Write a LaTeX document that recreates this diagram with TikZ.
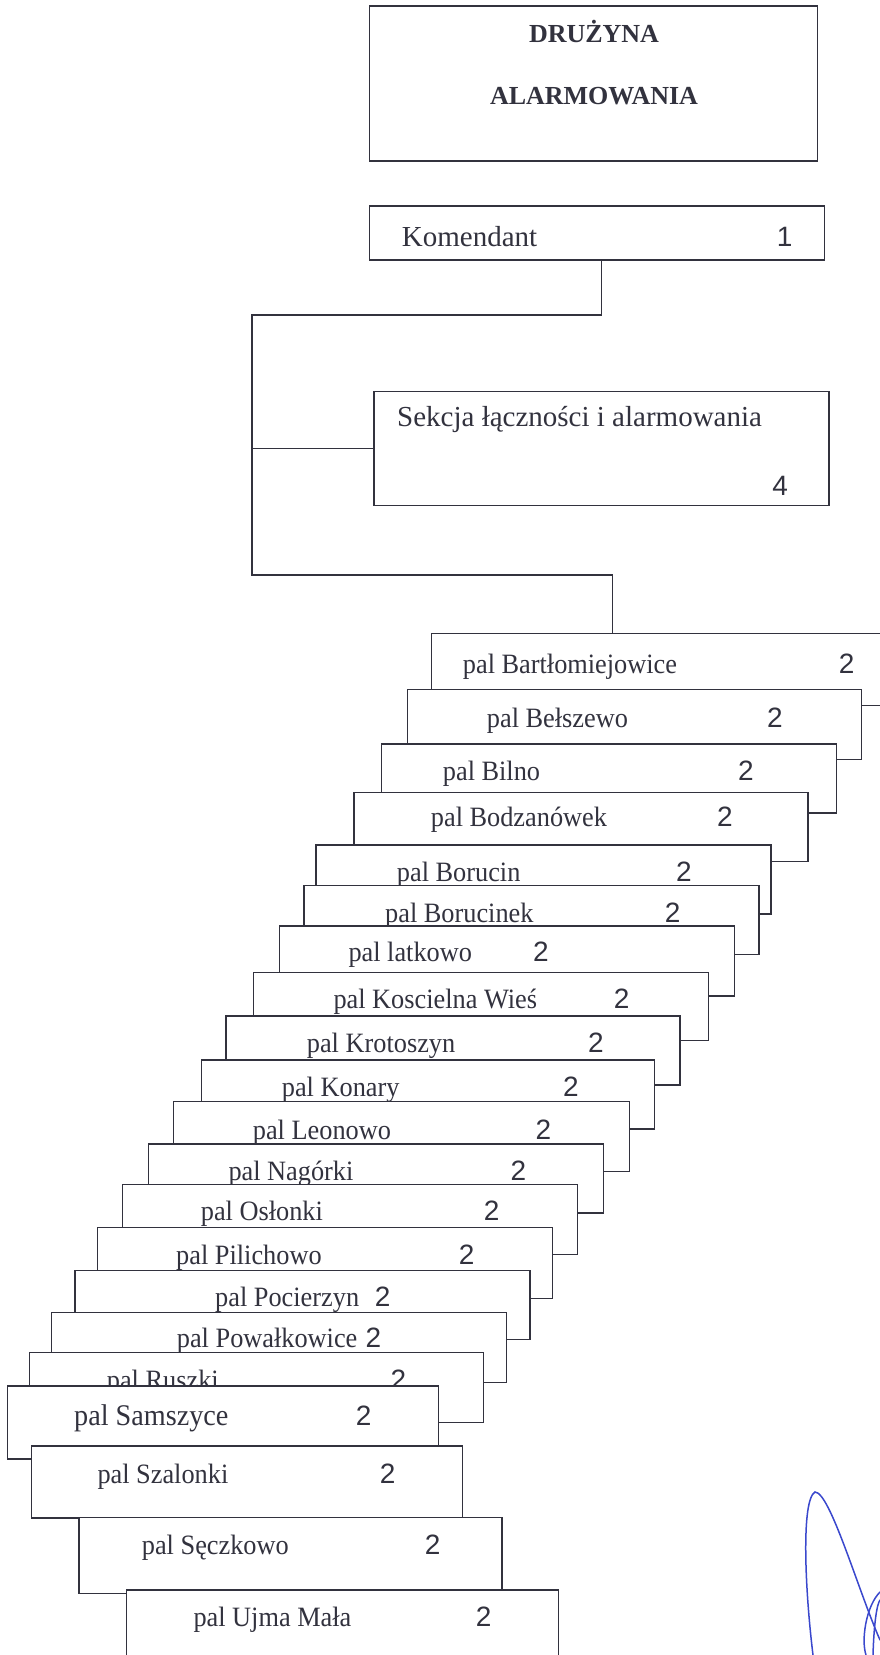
\documentclass[tikz,border=0pt]{standalone}
\usepackage{fontspec}
\setmainfont{Liberation Serif}
\newfontfamily\palfont[FakeStretch=0.94]{Liberation Serif}
\newfontfamily\numfont{Liberation Sans}
\definecolor{ink}{RGB}{50,50,62}
\definecolor{signblue}{RGB}{58,72,205}
\tikzset{
box/.style={ % frame of every box, covers the one behind it
draw=ink, fill=white, line width=1.35pt,
anchor=north west, inner sep=0pt, outer sep=0pt},
palbox/.style={box, minimum width=455, minimum height=70},
headtext/.style={anchor=base west, inner sep=0pt, text=ink, font=\fontsize{29}{34}\selectfont},
paltext/.style={anchor=base west, inner sep=0pt, text=ink, font=\palfont\fontsize{28}{32}\selectfont},
palnum/.style={anchor=base, inner sep=0pt, text=ink, font=\numfont\fontsize{28}{32}\selectfont},
link/.style={draw=ink, line width=1.35pt}, % connectors
sign/.style={draw=signblue, line width=1.5pt, line cap=round}}

\begin{document}
\begin{tikzpicture}[x=1pt, y=-1pt]
	\useasboundingbox (0,0) rectangle (880,1655);
	% title and head boxes
	\node[box, minimum width=448, minimum height=155] (t) at (369.6,6) {};
	\node[anchor=base, text=ink, font=\bfseries\fontsize{26}{30}\selectfont] (t1) at (594,42.7) {DRUŻYNA};
	\node[anchor=base, text=ink, font=\bfseries\fontsize{26}{30}\selectfont] (t2) at (594,104.7) {ALARMOWANIA};
	\node[box, minimum width=455, minimum height=54] (k) at (369.6,206) {};
	\node[headtext] (kl) at (401.7,246) {Komendant};
	\node[palnum] (kn) at (784.6,246) {1};
	\node[box, minimum width=455, minimum height=114] (s) at (374,391.7) {};
	\node[headtext] (sl) at (397,426.7) {Sekcja łączności i alarmowania};
	\node[palnum] (sn) at (780.2,495) {4};
	% connectors
	\coordinate (j1) at (252,315);
	\coordinate (j2) at (252,575);
	\coordinate (p1in) at (612.3,633.3);
	\draw[link] ([xshift=4.4pt]k.south) |- (j1) -- (j2) -| (p1in);
	\draw[link] (j1 |- s.west) -- (s.west);
	% staircase of boxes, each one on top of the one before
	\node[palbox, minimum width=470, minimum height=72] (p1) at (431.7,633.3) {};
	\node[paltext] (l1) at (462.7,673) {pal Bartłomiejowice};
	\node[palnum] (n1) at (846.7,673) {2};
	\node[palbox, minimum width=454] (p2) at (407.3,689.3) {};
	\node[paltext] (l2) at (486.7,727) {pal Bełszewo};
	\node[palnum] (n2) at (775,727) {2};
	\node[palbox, minimum height=69] (p3) at (381.7,744) {};
	\node[paltext] (l3) at (442.7,780) {pal Bilno};
	\node[palnum] (n3) at (746,780) {2};
	\node[palbox, minimum width=454, minimum height=69] (p4) at (354,792.3) {};
	\node[paltext] (l4) at (430.7,826.7) {pal Bodzanówek};
	\node[palnum] (n4) at (725,826.7) {2};
	\node[palbox, minimum height=69] (p5) at (316,845) {};
	\node[paltext] (l5) at (396.7,881.7) {pal Borucin};
	\node[palnum] (n5) at (684,881.7) {2};
	\node[palbox, minimum height=69] (p6) at (304,885.7) {};
	\node[paltext] (l6) at (385,922.7) {pal Borucinek};
	\node[palnum] (n6) at (672.7,922.7) {2};
	\node[palbox] (p7) at (279.3,926) {};
	\node[paltext] (l7) at (348.3,961.7) {pal latkowo};
	\node[palnum] (n7) at (541,961.7) {2};
	\node[palbox, minimum height=68] (p8) at (253.3,972.7) {};
	\node[paltext] (l8) at (333.3,1008.3) {pal Koscielna Wieś};
	\node[palnum] (n8) at (621.7,1008.3) {2};
	\node[palbox, minimum width=454, minimum height=69] (p9) at (226,1016) {};
	\node[paltext] (l9) at (306.7,1052.7) {pal Krotoszyn};
	\node[palnum] (n9) at (596,1052.7) {2};
	\node[palbox, minimum width=453, minimum height=69] (p10) at (201.7,1060) {};
	\node[paltext] (l10) at (281.7,1096.7) {pal Konary};
	\node[palnum] (n10) at (571,1096.7) {2};
	\node[palbox, minimum width=456] (p11) at (173.3,1101.7) {};
	\node[paltext] (l11) at (252.7,1139.3) {pal Leonowo};
	\node[palnum] (n11) at (543.3,1139.3) {2};
	\node[palbox, minimum height=69] (p12) at (148.3,1144) {};
	\node[paltext] (l12) at (228.3,1180) {pal Nagórki};
	\node[palnum] (n12) at (518.3,1180) {2};
	\node[palbox] (p13) at (122.3,1184.3) {};
	\node[paltext] (l13) at (200.7,1220.7) {pal Osłonki};
	\node[palnum] (n13) at (491.7,1220.7) {2};
	\node[palbox, minimum height=71] (p14) at (97.3,1227.7) {};
	\node[paltext] (l14) at (176,1264) {pal Pilichowo};
	\node[palnum] (n14) at (466.7,1264) {2};
	\node[palbox, minimum height=69] (p15) at (75,1270.7) {};
	\node[paltext] (l15) at (215,1306) {pal Pocierzyn};
	\node[palnum] (n15) at (382.7,1306) {2};
	\node[palbox] (p16) at (51.7,1312.3) {};
	\node[paltext] (l16) at (176.7,1347.3) {pal Powałkowice};
	\node[palnum] (n16) at (373.3,1347.3) {2};
	\node[palbox, minimum width=454] (p17) at (29.3,1352.7) {};
	\node[paltext] (l17) at (106.7,1389.4) {pal Ruszki};
	\node[palnum] (n17) at (398.3,1389.4) {2};
	\node[palbox, minimum width=431, minimum height=73] (p18) at (7.3,1386) {};
	\node[paltext, font=\palfont\fontsize{30}{34}\selectfont] (l18) at (74,1425) {pal Samszyce};
	\node[palnum] (n18) at (363.7,1425) {2};
	\node[palbox, minimum width=431, minimum height=72] (p19) at (31.7,1446) {};
	\node[paltext] (l19) at (97.3,1483.3) {pal Szalonki};
	\node[palnum] (n19) at (387.7,1483.3) {2};
	\node[palbox, minimum width=423, minimum height=76] (p20) at (79,1517.7) {};
	\node[paltext] (l20) at (141.7,1554) {pal Sęczkowo};
	\node[palnum] (n20) at (432.7,1554) {2};
	\node[palbox, minimum width=432, minimum height=110] (p21) at (126.7,1590) {};
	\node[paltext] (l21) at (193.3,1626) {pal Ujma Mała};
	\node[palnum] (n21) at (483.7,1626) {2};
	% signature
	\draw[sign] (813,1655) .. controls (805,1590) and (801,1500) .. (815,1492) .. controls (830,1492) and (858,1590) .. (880,1640);
	\draw[sign] (880,1592) .. controls (866,1606) and (861,1640) .. (866,1655);
	\draw[sign] (873,1655) .. controls (874,1622) and (877,1604) .. (880,1600);
\end{tikzpicture}
\end{document}
